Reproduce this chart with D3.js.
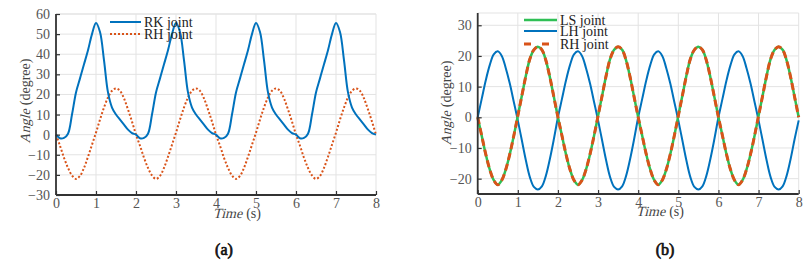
<!DOCTYPE html>
<html>
<head>
<meta charset="utf-8">
<script src="https://cdn.jsdelivr.net/npm/d3@7/dist/d3.min.js"></script>
<style>
  body { margin: 0; background: #fff; }
</style>
</head>
<body>
<svg id="fig" width="811" height="266"></svg>
<script>
const FONT = "Liberation Serif";

// sample times, 0..8 s every 0.1 s
const times = d3.range(81).map(i => i / 10);

// panel (a)
const rkAngle = [
  0, -1.8, -1.6, 0.5, 10, 21, 28, 35, 42, 50, 55.5, 51, 37, 21, 13.5, 10, 7.5, 5, 2.5, 0.8,
  0, -1.8, -1.6, 0.5, 10, 21, 28, 35, 42, 50, 55.5, 51, 37, 21, 13.5, 10, 7.5, 5, 2.5, 0.8,
  0, -1.8, -1.6, 0.5, 10, 21, 28, 35, 42, 50, 55.5, 51, 37, 21, 13.5, 10, 7.5, 5, 2.5, 0.8,
  0, -1.8, -1.6, 0.5, 10, 21, 28, 35, 42, 50, 55.5, 51, 37, 21, 13.5, 10, 7.5, 5, 2.5, 0.8,
  0
];
const rhAngleA = [
  0, -5.5, -11.5, -16.5, -20.3, -22, -20.5, -16.5, -11, -5, 1, 7.5, 13.5, 18.5, 21.8, 23, 21.8, 18, 12.5, 6.5,
  0, -5.5, -11.5, -16.5, -20.3, -22, -20.5, -16.5, -11, -5, 1, 7.5, 13.5, 18.5, 21.8, 23, 21.8, 18, 12.5, 6.5,
  0, -5.5, -11.5, -16.5, -20.3, -22, -20.5, -16.5, -11, -5, 1, 7.5, 13.5, 18.5, 21.8, 23, 21.8, 18, 12.5, 6.5,
  0, -5.5, -11.5, -16.5, -20.3, -22, -20.5, -16.5, -11, -5, 1, 7.5, 13.5, 18.5, 21.8, 23, 21.8, 18, 12.5, 6.5,
  0
];

// panel (b)
const lsAngle = [
  0, -6, -12, -17, -20.5, -22, -20.5, -17, -12, -6, 0.5, 7, 13.5, 19, 22, 23, 22, 18.5, 13, 6.5,
  0, -6, -12, -17, -20.5, -22, -20.5, -17, -12, -6, 0.5, 7, 13.5, 19, 22, 23, 22, 18.5, 13, 6.5,
  0, -6, -12, -17, -20.5, -22, -20.5, -17, -12, -6, 0.5, 7, 13.5, 19, 22, 23, 22, 18.5, 13, 6.5,
  0, -6, -12, -17, -20.5, -22, -20.5, -17, -12, -6, 0.5, 7, 13.5, 19, 22, 23, 22, 18.5, 13, 6.5,
  0
];
const lhAngle = [
  0, 6, 12, 17, 20.5, 21.5, 20, 16, 11, 5, -1, -7.5, -14, -19.5, -22.7, -23.5, -22.5, -19, -13.5, -7,
  0, 6, 12, 17, 20.5, 21.5, 20, 16, 11, 5, -1, -7.5, -14, -19.5, -22.7, -23.5, -22.5, -19, -13.5, -7,
  0, 6, 12, 17, 20.5, 21.5, 20, 16, 11, 5, -1, -7.5, -14, -19.5, -22.7, -23.5, -22.5, -19, -13.5, -7,
  0, 6, 12, 17, 20.5, 21.5, 20, 16, 11, 5, -1, -7.5, -14, -19.5, -22.7, -23.5, -22.5, -19, -13.5, -7,
  -1
];
const rhAngleB = lsAngle.slice();

const timeTicks = [0, 1, 2, 3, 4, 5, 6, 7, 8];
const angleTicksA = [-30, -20, -10, 0, 10, 20, 30, 40, 50, 60];
const angleTicksB = [-20, -10, 0, 10, 20, 30];

const BLUE = "#0072BD", ORANGE = "#D95319", GREEN = "#2fbf55";

const svg = d3.select("#fig").attr("font-family", FONT);

// only the regular face of the serif font is there, so slant the italic word by hand
function axisTitle(parent, x, y, angle, word, rest) {
  const g = parent.append("g")
    .attr("transform", `translate(${x},${y}) rotate(${angle})`)
    .attr("fill", "#444").attr("font-size", 14).attr("font-family", FONT);
  const t1 = g.append("text").attr("transform", "skewX(-14)").text(word);
  const t2 = g.append("text").text(rest);
  const w1 = t1.node().getComputedTextLength();
  const w2 = t2.node().getComputedTextLength();
  const gap = 4;
  const x0 = -(w1 + gap + w2) / 2;
  t1.attr("x", x0);
  t2.attr("x", x0 + w1 + gap);
}

function drawPanel(p) {
  const x = d3.scaleLinear().domain([0, 8]).range([p.left, p.right]);
  const y = d3.scaleLinear().domain(p.yDomain).range([p.bottom, p.top]);
  const g = svg.append("g");

  // grid
  g.selectAll(".gx").data(timeTicks).join("line")
    .attr("x1", d => x(d)).attr("x2", d => x(d))
    .attr("y1", p.top).attr("y2", p.bottom)
    .attr("stroke", "#e3e3e3").attr("stroke-width", 1);
  g.selectAll(".gy").data(p.yTicks).join("line")
    .attr("x1", p.left).attr("x2", p.right)
    .attr("y1", d => y(d)).attr("y2", d => y(d))
    .attr("stroke", "#e3e3e3").attr("stroke-width", 1);
  g.append("line").attr("x1", p.left).attr("x2", p.right)
    .attr("y1", p.top).attr("y2", p.top).attr("stroke", "#e3e3e3");

  // series
  const line = (vals) => d3.line()
    .x((d, i) => x(times[i]))
    .y(d => y(d))
    .curve(d3.curveCatmullRom)(vals);
  p.series.forEach(s => {
    g.append("path").attr("d", line(s.values))
      .attr("fill", "none").attr("stroke", s.color)
      .attr("stroke-width", s.width)
      .attr("stroke-dasharray", s.dash || null);
  });

  // axes
  const ax = g.append("g").attr("transform", `translate(0,${p.bottom})`)
    .call(d3.axisBottom(x).tickValues(timeTicks).tickSizeInner(-4).tickSizeOuter(0).tickPadding(3));
  const ay = g.append("g").attr("transform", `translate(${p.left},0)`)
    .call(d3.axisLeft(y).tickValues(p.yTicks).tickSizeInner(-4).tickSizeOuter(0).tickPadding(p.yPad));
  [ax, ay].forEach(a => {
    a.attr("font-family", FONT).attr("font-size", 14);
    a.select(".domain").attr("stroke", "#333").attr("stroke-width", 1.8);
    a.selectAll(".tick line").attr("stroke", "#333").attr("stroke-width", 1.2);
    a.selectAll(".tick text").attr("fill", "#555");
  });
  ay.select(".domain").attr("d", `M0,${p.bottom}V${p.top}`);
  ax.select(".domain").attr("d", `M${p.left},0H${p.right}`);

  // axis titles
  axisTitle(g, p.xLabel[0], p.xLabel[1], 0, "Time", "(s)");
  axisTitle(g, p.yLabel[0], p.yLabel[1], -90, "Angle", "(degree)");

  // legend
  p.legend.forEach((l, i) => {
    const ly = p.legendY[i];
    g.append("line").attr("x1", p.legendX).attr("x2", p.legendX + p.legendLen)
      .attr("y1", ly).attr("y2", ly)
      .attr("stroke", l.color).attr("stroke-width", l.width)
      .attr("stroke-dasharray", l.dash || null);
    g.append("text").attr("x", p.legendX + p.legendLen + 3).attr("y", ly + 4.5)
      .attr("fill", "#222").attr("font-size", 14).text(l.name);
  });

  // panel tag, thickened with a stroke since there is no bold face
  svg.append("text").attr("x", p.tag[0]).attr("y", p.tag[1])
    .attr("text-anchor", "middle")
    .attr("fill", "#111").attr("stroke", "#111").attr("stroke-width", 0.7)
    .attr("font-size", 16).text(p.tagText);
}

drawPanel({
  left: 56, right: 376, top: 14, bottom: 195,
  yDomain: [-30, 60], yTicks: angleTicksA, yPad: 6,
  series: [
    { values: rhAngleA, color: ORANGE, width: 2, dash: "2,2" },
    { values: rkAngle, color: BLUE, width: 2 }
  ],
  xLabel: [237, 218], yLabel: [30, 101],
  legend: [
    { name: "RK joint", color: BLUE, width: 2 },
    { name: "RH joint", color: ORANGE, width: 2, dash: "2,2" }
  ],
  legendX: 110, legendLen: 31, legendY: [22, 34],
  tag: [224, 255], tagText: "(a)"
});

drawPanel({
  left: 477.7, right: 798.7, top: 13, bottom: 194,
  yDomain: [-25, 34], yTicks: angleTicksB, yPad: 6,
  series: [
    { values: lhAngle, color: BLUE, width: 2 },
    { values: lsAngle, color: GREEN, width: 2.5 },
    { values: rhAngleB, color: ORANGE, width: 3, dash: "7,4" }
  ],
  xLabel: [660, 216], yLabel: [451, 103],
  legend: [
    { name: "LS joint", color: GREEN, width: 2.5 },
    { name: "LH joint", color: BLUE, width: 2 },
    { name: "RH joint", color: ORANGE, width: 3, dash: "7,11" }
  ],
  legendX: 524, legendLen: 33, legendY: [20, 31, 44],
  tag: [665, 255], tagText: "(b)"
});
</script>
</body>
</html>
